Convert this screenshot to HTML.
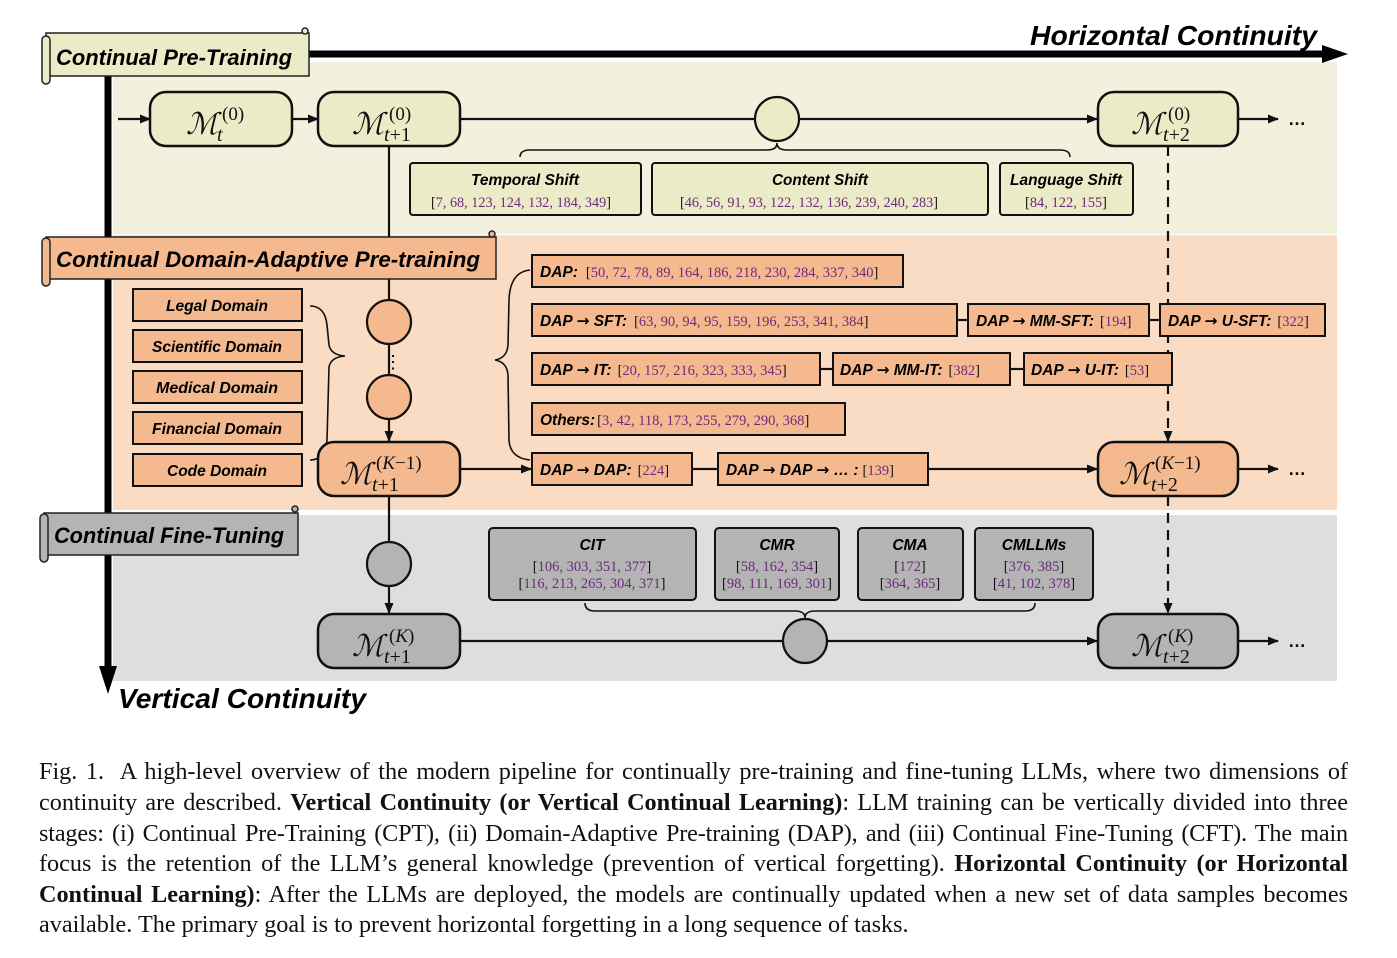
<!DOCTYPE html>
<html><head><meta charset="utf-8"><style>
body{margin:0;background:#fff;width:1397px;height:958px;overflow:hidden;position:relative}
svg{position:absolute;left:0;top:0}
.cap{position:absolute;left:39px;width:1309px;font-family:"Liberation Serif",serif;font-size:24.2px;color:#111;text-align:justify;text-align-last:justify;white-space:nowrap;line-height:30px}
.cap.l{text-align-last:left}
.lab{font-family:"Liberation Sans",sans-serif;font-weight:bold;font-style:italic}
.ar{font-family:"DejaVu Sans",sans-serif;font-weight:bold;font-style:normal}
.ref{font-family:"Liberation Serif",serif;fill:#6b2c7a}
.br{fill:#111}
.m{font-family:"Liberation Serif","DejaVu Serif",serif;font-style:italic}
</style></head><body>
<svg width="1397" height="958" viewBox="0 0 1397 958">
<defs>
<marker id="a" markerWidth="11" markerHeight="9" refX="10" refY="4.5" orient="auto" markerUnits="userSpaceOnUse"><path d="M0,0 L11,4.5 L0,9 z" fill="#111"/></marker>
</defs>
<rect x="113" y="62" width="1224" height="172" fill="#f3f1de"/>
<rect x="113" y="235" width="1224" height="275" fill="#f9dcc3"/>
<rect x="113" y="515" width="1224" height="166" fill="#dedede"/>
<line x1="300" y1="54" x2="1330" y2="54" stroke="#000" stroke-width="7"/>
<path d="M1322,45 L1348,54 L1322,63 z" fill="#000"/>
<line x1="108" y1="60" x2="108" y2="672" stroke="#000" stroke-width="7"/>
<path d="M99,666 L108,694 L117,666 z" fill="#000"/>
<text x="1317" y="45" text-anchor="end" class="lab" font-size="28" fill="#000" textLength="287" lengthAdjust="spacingAndGlyphs">Horizontal Continuity</text>
<text x="118" y="708" class="lab" font-size="28" fill="#000" textLength="248" lengthAdjust="spacingAndGlyphs">Vertical Continuity</text>

<g stroke="#111" stroke-width="2.2" fill="none">
<line x1="118" y1="119" x2="150" y2="119" marker-end="url(#a)"/>
<line x1="292" y1="119" x2="318" y2="119" marker-end="url(#a)"/>
<line x1="460" y1="119" x2="1097" y2="119" marker-end="url(#a)"/>
<line x1="1238" y1="119" x2="1278" y2="119" marker-end="url(#a)"/>
<line x1="389" y1="146" x2="389" y2="441" marker-end="url(#a)"/>
<line x1="460" y1="469" x2="531" y2="469" marker-end="url(#a)"/>
<line x1="692" y1="469" x2="718" y2="469"/>
<line x1="928" y1="469" x2="1097" y2="469" marker-end="url(#a)"/>
<line x1="1238" y1="469" x2="1278" y2="469" marker-end="url(#a)"/>
<line x1="389" y1="496" x2="389" y2="613" marker-end="url(#a)"/>
<line x1="460" y1="641" x2="1097" y2="641" marker-end="url(#a)"/>
<line x1="1238" y1="641" x2="1278" y2="641" marker-end="url(#a)"/>
<line x1="957" y1="320" x2="968" y2="320"/><line x1="1149" y1="320" x2="1160" y2="320"/>
<line x1="820" y1="369" x2="833" y2="369"/><line x1="1010" y1="369" x2="1024" y2="369"/>
<line x1="1168" y1="146" x2="1168" y2="441" stroke-dasharray="10,7" marker-end="url(#a)"/>
<line x1="1168" y1="496" x2="1168" y2="613" stroke-dasharray="10,7" marker-end="url(#a)"/>
</g>
<g stroke="#111" stroke-width="1.6" fill="none">
<path d="M520,157 Q520,150 530,150 L767,150 Q777,150 777,143 Q777,150 787,150 L1060,150 Q1070,150 1070,157"/>
<path d="M310,306 Q325,306 327,325 L329,345 Q331,355 345,356 Q331,357 329,367 L327,440 Q325,460 310,460"/>
<path d="M530,270 Q510,272 509,300 L508,345 Q507,358 495,360 Q507,362 508,375 L509,440 Q510,458 530,460"/>
<path d="M585,603 Q585,611 595,611 L795,611 Q805,611 805,618 Q805,611 815,611 L1025,611 Q1035,611 1035,603"/>
</g>
<text x="384" y="368" font-size="18" font-family="Liberation Sans">⋮</text>

<g stroke="#222" stroke-width="1.5">
<rect x="46" y="33" width="263" height="43" fill="#ecebc8"/>
<rect x="42" y="36" width="8" height="48" rx="4" fill="#ecebc8"/>
<circle cx="305" cy="31" r="3" fill="#ecebc8"/>
<rect x="46" y="237" width="450" height="42" fill="#f4b98f"/>
<rect x="42" y="238" width="8" height="48" rx="4" fill="#f4b98f"/>
<circle cx="492" cy="234" r="3" fill="#f4b98f"/>
<rect x="44" y="513" width="254" height="42" fill="#b4b4b4"/>
<rect x="40" y="514" width="8" height="48" rx="4" fill="#b4b4b4"/>
<circle cx="295" cy="509" r="3" fill="#b4b4b4"/>
</g>
<text x="56" y="65" class="lab" font-size="22" textLength="236" lengthAdjust="spacingAndGlyphs">Continual Pre-Training</text>
<text x="56" y="267" class="lab" font-size="22" textLength="424" lengthAdjust="spacingAndGlyphs">Continual Domain-Adaptive Pre-training</text>
<text x="54" y="543" class="lab" font-size="22" textLength="230" lengthAdjust="spacingAndGlyphs">Continual Fine-Tuning</text>

<g stroke="#111" stroke-width="2.2">
<circle cx="777" cy="119" r="22" fill="#ecebc8"/>
<circle cx="389" cy="322" r="22" fill="#f4b98f"/>
<circle cx="389" cy="397" r="22" fill="#f4b98f"/>
<circle cx="389" cy="564" r="22" fill="#b4b4b4"/>
<circle cx="805" cy="641" r="22" fill="#b4b4b4"/>
</g>

<g stroke="#111" stroke-width="2.5">
<rect x="150" y="92" width="142" height="54" rx="16" fill="#ecebc8"/>
<rect x="318" y="92" width="142" height="54" rx="16" fill="#ecebc8"/>
<rect x="1098" y="92" width="140" height="54" rx="16" fill="#ecebc8"/>
<rect x="318" y="442" width="142" height="54" rx="16" fill="#f4b98f"/>
<rect x="1098" y="442" width="140" height="54" rx="16" fill="#f4b98f"/>
<rect x="318" y="614" width="142" height="54" rx="16" fill="#b4b4b4"/>
<rect x="1098" y="614" width="140" height="54" rx="16" fill="#b4b4b4"/>
</g>
<g class="m" fill="#111">
<text x="186" y="134" font-size="30">ℳ</text><text x="217" y="141" font-size="20">t</text><text x="222" y="120" font-size="19" font-style="normal">(0)</text>
<text x="352" y="134" font-size="30">ℳ</text><text x="384" y="141" font-size="20">t<tspan font-style="normal">+1</tspan></text><text x="389" y="120" font-size="19" font-style="normal">(0)</text>
<text x="1131" y="134" font-size="30">ℳ</text><text x="1163" y="141" font-size="20">t<tspan font-style="normal">+2</tspan></text><text x="1168" y="120" font-size="19" font-style="normal">(0)</text>
<text x="340" y="484" font-size="30">ℳ</text><text x="372" y="491" font-size="20">t<tspan font-style="normal">+1</tspan></text><text x="376" y="469" font-size="19"><tspan font-style="normal">(</tspan>K<tspan font-style="normal">−1)</tspan></text>
<text x="1119" y="484" font-size="30">ℳ</text><text x="1151" y="491" font-size="20">t<tspan font-style="normal">+2</tspan></text><text x="1155" y="469" font-size="19"><tspan font-style="normal">(</tspan>K<tspan font-style="normal">−1)</tspan></text>
<text x="352" y="656" font-size="30">ℳ</text><text x="384" y="663" font-size="20">t<tspan font-style="normal">+1</tspan></text><text x="389" y="642" font-size="19"><tspan font-style="normal">(</tspan>K<tspan font-style="normal">)</tspan></text>
<text x="1131" y="656" font-size="30">ℳ</text><text x="1163" y="663" font-size="20">t<tspan font-style="normal">+2</tspan></text><text x="1168" y="642" font-size="19"><tspan font-style="normal">(</tspan>K<tspan font-style="normal">)</tspan></text>
</g>
<g font-family="Liberation Sans" font-weight="bold" font-size="18" fill="#111">
<text x="1288" y="125">…</text><text x="1288" y="475">…</text><text x="1288" y="647">…</text>
</g>

<g stroke="#111" stroke-width="2" fill="#ecebc8">
<rect x="410" y="163" width="231" height="52" rx="3"/>
<rect x="652" y="163" width="336" height="52" rx="3"/>
<rect x="1000" y="163" width="133" height="52" rx="3"/>
</g>
<g font-size="15.5">
<text x="525" y="185" text-anchor="middle" class="lab" textLength="108" lengthAdjust="spacingAndGlyphs">Temporal Shift</text>
<text x="820" y="185" text-anchor="middle" class="lab" textLength="96" lengthAdjust="spacingAndGlyphs">Content Shift</text>
<text x="1066" y="185" text-anchor="middle" class="lab" textLength="112" lengthAdjust="spacingAndGlyphs">Language Shift</text>
</g>
<g font-size="14.5">
<text x="521" y="207" text-anchor="middle" class="ref" textLength="180" lengthAdjust="spacingAndGlyphs"><tspan class="br">[</tspan>7, 68, 123, 124, 132, 184, 349<tspan class="br">]</tspan></text>
<text x="809" y="207" text-anchor="middle" class="ref" textLength="258" lengthAdjust="spacingAndGlyphs"><tspan class="br">[</tspan>46, 56, 91, 93, 122, 132, 136, 239, 240, 283<tspan class="br">]</tspan></text>
<text x="1066" y="207" text-anchor="middle" class="ref" textLength="82" lengthAdjust="spacingAndGlyphs"><tspan class="br">[</tspan>84, 122, 155<tspan class="br">]</tspan></text>
</g>

<g stroke="#111" stroke-width="2" fill="#f4b98f">
<rect x="133" y="289" width="169" height="32"/>
<rect x="133" y="330" width="169" height="32"/>
<rect x="133" y="371" width="169" height="32"/>
<rect x="133" y="412" width="169" height="32"/>
<rect x="133" y="454" width="169" height="32"/>
</g>
<g font-size="15.5" text-anchor="middle">
<text x="217" y="311" class="lab" textLength="102" lengthAdjust="spacingAndGlyphs">Legal Domain</text>
<text x="217" y="352" class="lab" textLength="130" lengthAdjust="spacingAndGlyphs">Scientific Domain</text>
<text x="217" y="393" class="lab" textLength="122" lengthAdjust="spacingAndGlyphs">Medical Domain</text>
<text x="217" y="434" class="lab" textLength="130" lengthAdjust="spacingAndGlyphs">Financial Domain</text>
<text x="217" y="476" class="lab" textLength="100" lengthAdjust="spacingAndGlyphs">Code Domain</text>
</g>

<g stroke="#111" stroke-width="2" fill="#f4b98f">
<rect x="532" y="255" width="371" height="32"/>
<rect x="532" y="304" width="425" height="32"/>
<rect x="968" y="304" width="181" height="32"/>
<rect x="1160" y="304" width="165" height="32"/>
<rect x="532" y="353" width="288" height="32"/>
<rect x="833" y="353" width="177" height="32"/>
<rect x="1024" y="353" width="148" height="32"/>
<rect x="532" y="403" width="313" height="32"/>
<rect x="532" y="453" width="160" height="32"/>
<rect x="718" y="453" width="210" height="32"/>
</g>
<g font-size="15.5">
<text x="540" y="277"><tspan class="lab">DAP:</tspan><tspan class="ref" font-size="14.5" dx="8"><tspan class="br">[</tspan>50, 72, 78, 89, 164, 186, 218, 230, 284, 337, 340<tspan class="br">]</tspan></tspan></text>
<text x="540" y="326"><tspan class="lab">DAP <tspan class="ar">→</tspan> SFT:</tspan><tspan class="ref" font-size="14.5" dx="7"><tspan class="br">[</tspan>63, 90, 94, 95, 159, 196, 253, 341, 384<tspan class="br">]</tspan></tspan></text>
<text x="976" y="326"><tspan class="lab">DAP <tspan class="ar">→</tspan> MM-SFT:</tspan><tspan class="ref" font-size="14.5" dx="6"><tspan class="br">[</tspan>194<tspan class="br">]</tspan></tspan></text>
<text x="1168" y="326"><tspan class="lab">DAP <tspan class="ar">→</tspan> U-SFT:</tspan><tspan class="ref" font-size="14.5" dx="6"><tspan class="br">[</tspan>322<tspan class="br">]</tspan></tspan></text>
<text x="540" y="375"><tspan class="lab">DAP <tspan class="ar">→</tspan> IT:</tspan><tspan class="ref" font-size="14.5" dx="6"><tspan class="br">[</tspan>20, 157, 216, 323, 333, 345<tspan class="br">]</tspan></tspan></text>
<text x="840" y="375"><tspan class="lab">DAP <tspan class="ar">→</tspan> MM-IT:</tspan><tspan class="ref" font-size="14.5" dx="6"><tspan class="br">[</tspan>382<tspan class="br">]</tspan></tspan></text>
<text x="1031" y="375"><tspan class="lab">DAP <tspan class="ar">→</tspan> U-IT:</tspan><tspan class="ref" font-size="14.5" dx="6"><tspan class="br">[</tspan>53<tspan class="br">]</tspan></tspan></text>
<text x="540" y="425"><tspan class="lab">Others:</tspan><tspan class="ref" font-size="14.5" dx="2"><tspan class="br">[</tspan>3, 42, 118, 173, 255, 279, 290, 368<tspan class="br">]</tspan></tspan></text>
<text x="540" y="475"><tspan class="lab">DAP <tspan class="ar">→</tspan> DAP:</tspan><tspan class="ref" font-size="14.5" dx="6"><tspan class="br">[</tspan>224<tspan class="br">]</tspan></tspan></text>
<text x="726" y="475"><tspan class="lab">DAP <tspan class="ar">→</tspan> DAP <tspan class="ar">→</tspan> … :</tspan><tspan class="ref" font-size="14.5" dx="4"><tspan class="br">[</tspan>139<tspan class="br">]</tspan></tspan></text>
</g>

<g stroke="#111" stroke-width="2" fill="#b4b4b4">
<rect x="489" y="528" width="207" height="72" rx="4"/>
<rect x="715" y="528" width="124" height="72" rx="4"/>
<rect x="858" y="528" width="105" height="72" rx="4"/>
<rect x="975" y="528" width="118" height="72" rx="4"/>
</g>
<g text-anchor="middle">
<text x="592" y="550" class="lab" font-size="15.5">CIT</text>
<text x="777" y="550" class="lab" font-size="15.5">CMR</text>
<text x="910" y="550" class="lab" font-size="15.5">CMA</text>
<text x="1034" y="550" class="lab" font-size="15.5">CMLLMs</text>
<g font-size="14.5" class="ref">
<text x="592" y="571"><tspan class="br">[</tspan>106, 303, 351, 377<tspan class="br">]</tspan></text>
<text x="592" y="588"><tspan class="br">[</tspan>116, 213, 265, 304, 371<tspan class="br">]</tspan></text>
<text x="777" y="571"><tspan class="br">[</tspan>58, 162, 354<tspan class="br">]</tspan></text>
<text x="777" y="588" textLength="110" lengthAdjust="spacingAndGlyphs"><tspan class="br">[</tspan>98, 111, 169, 301<tspan class="br">]</tspan></text>
<text x="910" y="571"><tspan class="br">[</tspan>172<tspan class="br">]</tspan></text>
<text x="910" y="588"><tspan class="br">[</tspan>364, 365<tspan class="br">]</tspan></text>
<text x="1034" y="571"><tspan class="br">[</tspan>376, 385<tspan class="br">]</tspan></text>
<text x="1034" y="588"><tspan class="br">[</tspan>41, 102, 378<tspan class="br">]</tspan></text>
</g>
</g>
</svg>
<div class="cap" style="top:757px">Fig. 1.&nbsp; A high-level overview of the modern pipeline for continually pre-training and fine-tuning LLMs, where two dimensions of</div>
<div class="cap" style="top:788px">continuity are described. <b>Vertical Continuity (or Vertical Continual Learning)</b>: LLM training can be vertically divided into three</div>
<div class="cap" style="top:819px;letter-spacing:-0.15px">stages: (i) Continual Pre-Training (CPT), (ii) Domain-Adaptive Pre-training (DAP), and (iii) Continual Fine-Tuning (CFT). The main</div>
<div class="cap" style="top:849px">focus is the retention of the LLM’s general knowledge (prevention of vertical forgetting). <b>Horizontal Continuity (or Horizontal</b></div>
<div class="cap" style="top:880px"><b>Continual Learning)</b>: After the LLMs are deployed, the models are continually updated when a new set of data samples becomes</div>
<div class="cap l" style="top:910px">available. The primary goal is to prevent horizontal forgetting in a long sequence of tasks.</div>
</body></html>
